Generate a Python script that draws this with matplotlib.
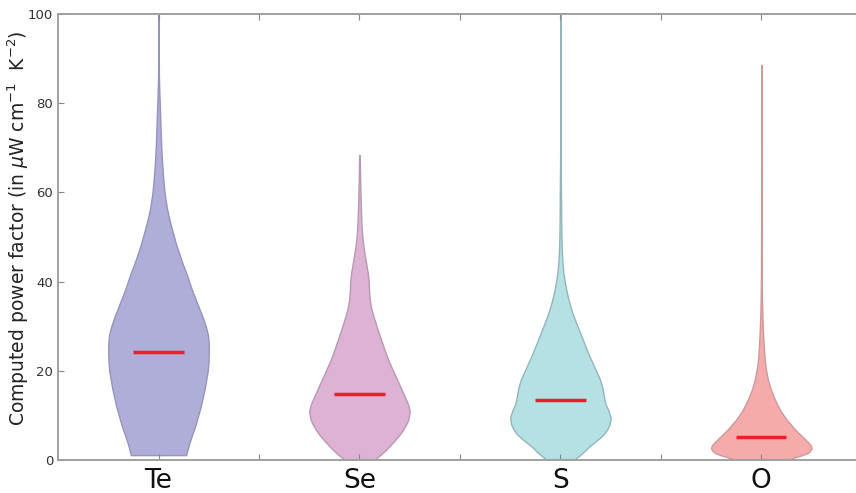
import numpy as np
import matplotlib
matplotlib.use("Agg")
import matplotlib.pyplot as plt

# Elements and their computed power-factor distributions
elements = ["Te", "Se", "S", "O"]
medians = [24.2, 14.8, 13.5, 5.1]

# Density profiles: power-factor levels and relative density (peak = 1)
te_levels = [1.1, 2, 4, 6, 8, 10, 12, 14, 16, 18, 20, 22, 24, 26, 28, 30, 32,
             34, 36, 38, 40, 42, 44, 46, 48, 50, 52, 54, 56, 58, 60, 63, 66,
             70, 74, 78, 82, 86, 90, 100]
te_density = [0.55, 0.57, 0.62, 0.68, 0.74, 0.79, 0.84, 0.88, 0.92, 0.95,
              0.98, 0.995, 1.0, 1.0, 0.985, 0.94, 0.88, 0.81, 0.74, 0.67,
              0.61, 0.55, 0.48, 0.42, 0.36, 0.31, 0.26, 0.215, 0.175, 0.145,
              0.12, 0.095, 0.075, 0.055, 0.042, 0.03, 0.018, 0.008, 0.005,
              0.004]

se_levels = [0, 1, 2, 3, 4, 5, 6, 7, 8, 9, 10, 11, 12, 13, 14, 16, 18, 20,
             22, 24, 26, 28, 30, 32, 34, 36, 38, 40, 42, 44, 46, 48, 50, 53,
             56, 60, 64, 67, 68.4]
se_density = [0.29, 0.4, 0.5, 0.59, 0.67, 0.75, 0.82, 0.88, 0.93, 0.97,
              0.99, 1.0, 0.98, 0.95, 0.91, 0.83, 0.75, 0.67, 0.59, 0.52,
              0.46, 0.4, 0.34, 0.285, 0.235, 0.205, 0.19, 0.185, 0.165,
              0.135, 0.105, 0.078, 0.057, 0.04, 0.03, 0.02, 0.012, 0.007,
              0.004]

s_levels = [0.2, 1, 2, 3, 4, 5, 6, 7, 8, 9.5, 11, 12.5, 14, 16, 18, 20, 22,
            24, 26, 28, 30, 32, 34, 36, 38, 40, 42, 44, 47, 50, 54, 58, 62,
            66, 70, 80, 100]
s_density = [0.29, 0.38, 0.48, 0.57, 0.68, 0.79, 0.88, 0.94, 0.98, 1.0,
             0.96, 0.9, 0.87, 0.84, 0.79, 0.71, 0.63, 0.55, 0.48, 0.41,
             0.34, 0.27, 0.21, 0.16, 0.12, 0.085, 0.06, 0.042, 0.028, 0.02,
             0.015, 0.013, 0.01, 0.006, 0.004, 0.003, 0.003]

o_levels = [0.2, 0.6, 1.0, 1.5, 2.0, 2.6, 3.2, 4, 5, 6, 7, 8, 9, 10, 11,
            12.5, 14, 16, 18, 20, 22, 25, 28, 31, 34, 37, 42, 50, 65, 88.6]
o_density = [0.56, 0.66, 0.78, 0.9, 0.96, 0.99, 0.98, 0.92, 0.83, 0.74,
             0.65, 0.58, 0.5, 0.44, 0.38, 0.31, 0.25, 0.18, 0.13, 0.095,
             0.07, 0.05, 0.035, 0.025, 0.017, 0.011, 0.007, 0.005, 0.004,
             0.003]

levels = [te_levels, se_levels, s_levels, o_levels]
densities = [te_density, se_density, s_density, o_density]

face_colors = ["#aeaed9", "#ddb2d4", "#b3e1e4", "#f6abab"]
edge_colors = ["#9494bd", "#b89ab0", "#95b5b8", "#cc9a9a"]

fig = plt.figure(figsize=(8.56, 4.93), dpi=100)
ax = fig.add_axes([0.0678, 0.0669, 0.939, 0.9047])

stats = []
for lv, dn, med in zip(levels, densities, medians):
    lv = np.asarray(lv, dtype=float)
    stats.append({
        "coords": lv,
        "vals": np.asarray(dn, dtype=float),
        "mean": med,
        "median": med,
        "min": lv.min(),
        "max": lv.max(),
    })

positions = np.arange(1, len(elements) + 1)
parts = ax.violin(stats, positions=positions, widths=0.5,
                  showmeans=False, showextrema=False, showmedians=True)

for body, fc, ec in zip(parts["bodies"], face_colors, edge_colors):
    body.set_facecolor(fc)
    body.set_edgecolor(ec)
    body.set_alpha(1.0)
    body.set_linewidth(1.0)

parts["cmedians"].set_color("#e8202a")
parts["cmedians"].set_linewidth(2.5)

ax.set_xlim(0.5, len(elements) + 0.5)
ax.set_ylim(0, 100)
ax.set_xticks(positions)
ax.set_xticklabels(elements, fontsize=19, color="#111111")
ax.set_xticks(positions[:-1] + 0.5, minor=True)
ax.set_yticks(np.arange(0, 101, 20))
ax.tick_params(axis="y", labelsize=9.5, labelcolor="#333333")
ax.tick_params(which="both", direction="in", top=True, right=False,
               length=4, width=0.8, color="#888888")
ax.tick_params(axis="x", pad=6)

for sp in ax.spines.values():
    sp.set_color("#a0a0a0")
    sp.set_linewidth(1.4)
ax.spines["right"].set_visible(False)

ax.set_ylabel(r"Computed power factor (in $\mu$W cm$^{-1}$  K$^{-2}$)",
              fontsize=13.5, color="#222222")
ax.yaxis.set_label_coords(-0.034, 0.52)

fig.savefig("out.png", dpi=100)
